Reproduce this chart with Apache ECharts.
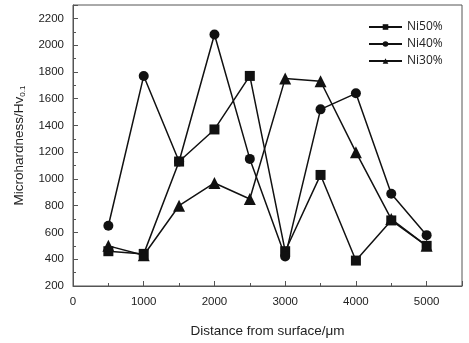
<!DOCTYPE html>
<html><head><meta charset="utf-8">
<script src="https://cdn.jsdelivr.net/npm/echarts@6/dist/echarts.min.js"></script>
<style>html,body{margin:0;padding:0;background:#fff}#c{width:469px;height:343px}</style>
</head><body><div id="c"></div>
<script>
const distances = [500, 1000, 1500, 2000, 2500, 3000, 3500, 4000, 4500, 5000];
const ni50 = [460, 440, 1130, 1370, 1770, 460, 1030, 390, 690, 500];
const ni40 = [650, 1770, 1130, 2080, 1150, 420, 1520, 1640, 890, 580];
const ni30 = [500, 430, 800, 970, 850, 1750, 1730, 1200, 700, 500];
const seriesNames = ['Ni50%', 'Ni40%', 'Ni30%'];
const symbols = ['rect', 'circle', 'triangle'];
const allData = [ni50, ni40, ni30];

const chart = echarts.init(document.getElementById('c'));
const font = 'Liberation Sans, Arial, sans-serif';
chart.setOption({
  animation: false,
  backgroundColor: '#fff',
  grid: {left: 73, right: 7, top: 5, bottom: 53, show: true, borderColor: '#555', borderWidth: 1},
  legend: {
    orient: 'vertical', left: 363, top: 16, itemWidth: 33, itemHeight: 7, itemGap: 5,
    textStyle: {fontFamily: '"Open Sans", sans-serif', fontSize: 12, color: '#222'},
    data: seriesNames
  },
  xAxis: {
    type: 'value', min: 0, max: 5500, interval: 1000,
    name: 'Distance from surface/μm', nameLocation: 'middle', nameGap: 38,
    nameTextStyle: {fontFamily: font, fontSize: 13.5, color: '#222'},
    axisLine: {show: true, lineStyle: {color: '#555'}},
    axisTick: {show: true, inside: true, length: 5, lineStyle: {color: '#555'}},
    minorTick: {show: true, splitNumber: 2, length: 3, lineStyle: {color: '#555'}},
    axisLabel: {fontFamily: font, fontSize: 11.5, color: '#222', margin: 10,
      formatter: v => v > 5000 ? '' : String(v)},
    splitLine: {show: false}
  },
  yAxis: {
    type: 'value', min: 200, max: 2300, interval: 200,
    name: '{a|Microhardness/Hv}{s|0.1}', nameLocation: 'middle', nameGap: 46,
    nameTextStyle: {fontFamily: font, fontSize: 13.5, color: '#222',
      rich: {a: {fontFamily: font, fontSize: 13.5, color: '#222'},
             s: {fontFamily: font, fontSize: 8, color: '#222', padding: [8, 0, 0, 0]}}},
    axisLine: {show: true, lineStyle: {color: '#555'}},
    axisTick: {show: true, inside: true, length: 5, lineStyle: {color: '#555'}},
    minorTick: {show: true, splitNumber: 2, length: 3, lineStyle: {color: '#555'}},
    axisLabel: {fontFamily: font, fontSize: 11.5, color: '#222', margin: 9,
      formatter: v => v > 2200 ? '' : String(v)},
    splitLine: {show: false}
  },
  series: seriesNames.map((n, i) => ({
    name: n, type: 'line', symbol: symbols[i],
    symbolSize: i === 2 ? 12 : 10,
    data: distances.map((d, j) => [d, allData[i][j]]),
    lineStyle: {color: '#111', width: 1.5},
    itemStyle: {color: '#111'}
  }))
});
</script></body></html>
